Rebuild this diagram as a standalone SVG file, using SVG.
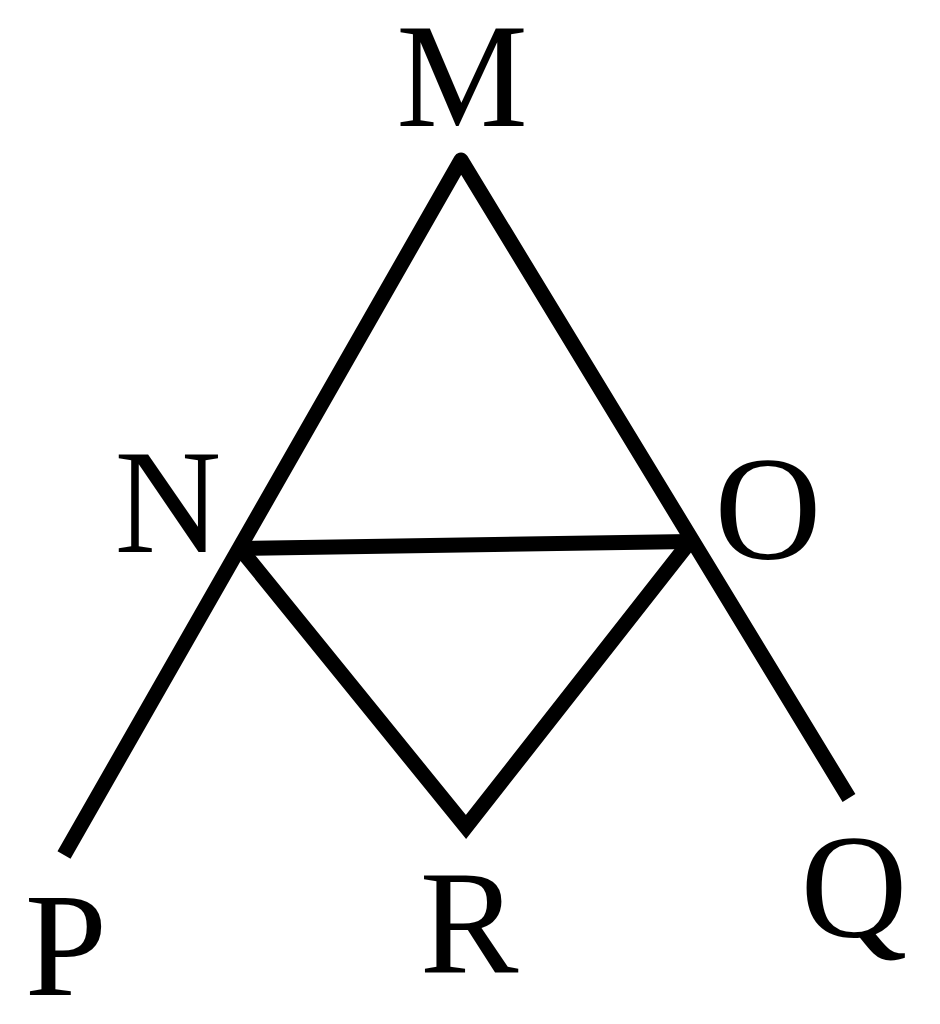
<svg xmlns="http://www.w3.org/2000/svg" width="940" height="1024" viewBox="0 0 940 1024">
<style>
.ln{fill:none;stroke:#000;stroke-width:15}
</style>
<rect width="940" height="1024" fill="#fff"/>
<g id="connectors">
<polyline class="ln" points="64,855 461,160 849,798" stroke-linejoin="round"/>
<line class="ln" x1="240" y1="548.5" x2="690" y2="541.5"/>
<polyline class="ln" points="240,548.5 466,827 690,541.5" stroke-linejoin="miter"/>
</g>
<g id="M"><text x="462" y="126" font-family="'Liberation Serif', serif" font-size="148" text-anchor="middle">M</text></g>
<g id="N"><text x="168" y="552" font-family="'Liberation Serif', serif" font-size="148" text-anchor="middle">N</text></g>
<g id="O"><text x="768" y="559" font-family="'Liberation Serif', serif" font-size="148" text-anchor="middle">O</text></g>
<g id="P"><text x="66" y="995" font-family="'Liberation Serif', serif" font-size="148" text-anchor="middle">P</text></g>
<g id="R"><text x="469" y="973" font-family="'Liberation Serif', serif" font-size="148" text-anchor="middle">R</text></g>
<g id="Q"><text x="854" y="937" font-family="'Liberation Serif', serif" font-size="148" text-anchor="middle">Q</text></g>
</svg>
